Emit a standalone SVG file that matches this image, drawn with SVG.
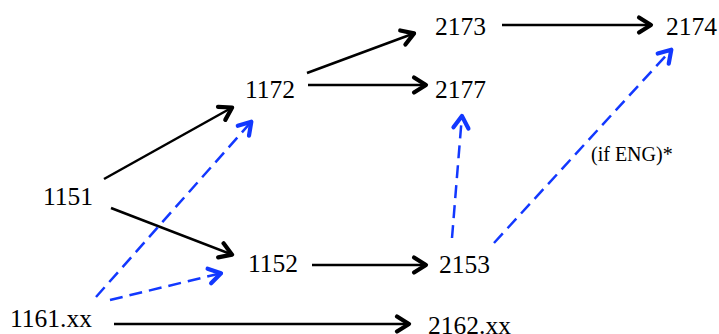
<svg xmlns="http://www.w3.org/2000/svg" width="719" height="334" viewBox="0 0 719 334">
<style>
.lbl{font-family:"Liberation Serif","Times New Roman",serif;font-size:25.5px;fill:#000}
.small{font-family:"Liberation Serif","Times New Roman",serif;font-size:20px;fill:#000}
.solid{stroke:#000;stroke-width:2.5;fill:none}
.dash{stroke:#1238ff;stroke-width:2.5;fill:none;stroke-dasharray:13 7}
</style>
<defs>
<marker id="ab" markerUnits="userSpaceOnUse" markerWidth="22" markerHeight="22" viewBox="-17 -11 22 22" refX="0" refY="0" orient="auto">
<path d="M-13,-7.5 L-1,0 L-13,7.5" fill="none" stroke="#000" stroke-width="4.2" stroke-linecap="round" stroke-linejoin="round"/>
</marker>
<marker id="ablue" markerUnits="userSpaceOnUse" markerWidth="22" markerHeight="22" viewBox="-17 -11 22 22" refX="0" refY="0" orient="auto">
<path d="M-13,-7.5 L-1,0 L-13,7.5" fill="none" stroke="#1238ff" stroke-width="4.2" stroke-linecap="round" stroke-linejoin="round"/>
</marker>
</defs>
<g id="connectors">
<line class="solid" x1="104" y1="179" x2="233" y2="107" marker-end="url(#ab)"/>
<line class="solid" x1="111" y1="208" x2="233" y2="255" marker-end="url(#ab)"/>
<line class="solid" x1="307" y1="73" x2="415" y2="33" marker-end="url(#ab)"/>
<line class="solid" x1="308" y1="85" x2="427" y2="85" marker-end="url(#ab)"/>
<line class="solid" x1="502" y1="25" x2="652" y2="25" marker-end="url(#ab)"/>
<line class="solid" x1="312" y1="265" x2="427" y2="265" marker-end="url(#ab)"/>
<line class="solid" x1="114" y1="324" x2="410" y2="324" marker-end="url(#ab)"/>
<line class="dash" x1="96" y1="297" x2="252" y2="121" marker-end="url(#ablue)"/>
<line class="dash" x1="110" y1="300" x2="222" y2="273" marker-end="url(#ablue)"/>
<line class="dash" x1="452" y1="238" x2="462" y2="115" marker-end="url(#ablue)"/>
<line class="dash" x1="494" y1="243" x2="672" y2="49" marker-end="url(#ablue)"/>
<text class="small" x="591" y="161">(if ENG)*</text>
</g>
<g id="n1151"><text class="lbl" x="43" y="205">1151</text></g>
<g id="n1161"><text class="lbl" x="10" y="327">1161.xx</text></g>
<g id="n1152"><text class="lbl" x="248" y="272">1152</text></g>
<g id="n1172"><text class="lbl" x="245" y="98">1172</text></g>
<g id="n2173"><text class="lbl" x="435" y="35">2173</text></g>
<g id="n2177"><text class="lbl" x="435" y="98">2177</text></g>
<g id="n2174"><text class="lbl" x="666" y="35">2174</text></g>
<g id="n2153"><text class="lbl" x="439" y="273">2153</text></g>
<g id="n2162"><text class="lbl" x="428" y="334">2162.xx</text></g>
</svg>
